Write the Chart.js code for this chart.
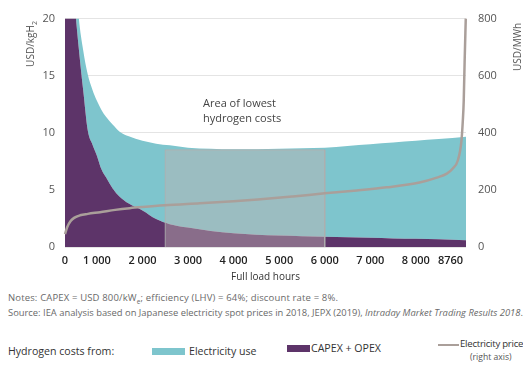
<!DOCTYPE html>
<html><head><meta charset="utf-8">
<script src="https://cdn.jsdelivr.net/npm/chart.js@4.4.1/dist/chart.umd.min.js"></script>
<style>
html,body{margin:0;padding:0;background:#fff}
body{width:523px;height:365px;overflow:hidden;position:relative;font-family:"Open Sans",sans-serif}
#wrap{position:absolute;left:0;top:0;width:523px;height:285px}
.t{position:absolute;white-space:nowrap}
.note{left:8px;font-size:9.5px;letter-spacing:0.15px;color:#6a6a6a}
.rot{width:90px;text-align:center;transform:rotate(-90deg);font-size:10px;color:#555}
.leg{font-size:10.6px;color:#333}
.sw{position:absolute}
</style></head><body>
<div id="wrap"><canvas id="c" width="523" height="285"></canvas></div>
<div class="t rot" style="left:-14px;top:36px">USD/kgH<sub style="font-size:7px">2</sub></div>
<div class="t rot" style="left:472px;top:40px">USD/MWh</div>
<div class="t" style="left:203px;top:95px;font-size:11px;color:#444;line-height:15px">Area of lowest<br>hydrogen costs</div>
<div class="t note" style="top:291px">Notes: CAPEX = USD 800/kW<sub style="font-size:6.5px">e</sub>; efficiency (LHV) = 64%; discount rate = 8%.</div>
<div class="t note" style="top:306px;letter-spacing:0;font-size:9.4px">Source: IEA analysis based on Japanese electricity spot prices in 2018, JEPX (2019), <i>Intraday Market Trading Results 2018</i>.</div>
<div class="t leg" style="left:8px;top:344px">Hydrogen costs from:</div>
<div class="sw" style="left:152px;top:348px;width:33px;height:7px;background:#7ec5cd"></div>
<div class="t leg" style="left:189px;top:344px">Electricity use</div>
<div class="sw" style="left:287px;top:345px;width:23px;height:7px;background:#5d3469"></div>
<div class="t leg" style="left:311px;top:341px">CAPEX + OPEX</div>
<div class="sw" style="left:438px;top:344px;width:21px;height:2px;background:#aa9f9a"></div>
<div class="t leg" style="left:460px;top:337px;font-size:9.6px;letter-spacing:-0.25px">Electricity price</div>
<div class="t leg" style="left:470px;top:351px;font-size:8.6px;color:#555">(right axis)</div>
<script>
// Full load hours (x) for the stacked cost areas
const hours = [300, 400, 500, 550, 600, 700, 800, 900, 1000, 1100, 1200, 1350, 1500, 1700, 2000, 2300, 2600, 3000, 3500, 4000, 4500, 5000, 5500, 6000, 6500, 7000, 7500, 8000, 8500, 9100];
// Hydrogen costs from CAPEX + OPEX (USD/kgH2)
const capexOpex = [36, 27, 22, 19.6, 17.5, 13.7, 10.2, 9.0, 8.0, 6.8, 6.1, 5.1, 4.4, 3.8, 3.2, 2.45, 2.0, 1.7, 1.4, 1.2, 1.07, 1.0, 0.95, 0.9, 0.85, 0.8, 0.75, 0.72, 0.68, 0.6];
// Hydrogen costs from electricity use (USD/kgH2)
const electricityUse = [6, 5, 4, 3.5, 2.7, 3.5, 4.9, 4.8, 4.8, 5.2, 5.3, 5.6, 5.7, 5.9, 6.1, 6.6, 6.9, 7.0, 7.2, 7.35, 7.48, 7.6, 7.7, 7.8, 8.0, 8.2, 8.4, 8.58, 8.77, 9.05];
// Electricity price curve (right axis, USD/MWh)
const priceHours = [300, 350, 420, 500, 630, 800, 1070, 1400, 1720, 2000, 2490, 3260, 4000, 4530, 5300, 6000, 6700, 7360, 8080, 8460, 8680, 8810, 8920, 9000, 9030, 9050, 9070, 9095];
const electricityPrice = [45, 70, 90, 102, 111, 116, 122, 130, 136, 140, 146, 153, 160, 166, 177, 188, 198, 209, 226, 243, 257, 275, 303, 372, 442, 511, 650, 800];
// Area of lowest hydrogen costs
const boxHours = [2500, 2500, 6000, 6000];
const boxCost = [0, 8.5, 8.5, 0];
// Axis ticks
const xTickValues = [300, 1000, 2000, 3000, 4000, 5000, 6000, 7000, 8000, 8760];
const xTickLabels = ['0', '1 000', '2 000', '3 000', '4 000', '5 000', '6 000', '7 000', '8 000', '8760'];
const leftTicks = [0, 5, 10, 15, 20];
const rightTicks = [0, 200, 400, 600, 800];

const pts = (xs, ys) => xs.map((x, i) => ({x: x, y: ys[i]}));

new Chart(document.getElementById('c'), {
  type: 'line',
  data: {
    datasets: [
      {label: 'Electricity price', data: pts(priceHours, electricityPrice), yAxisID: 'y2',
       borderColor: '#aa9f9a', borderWidth: 2.5, pointRadius: 0, fill: false,
       cubicInterpolationMode: 'monotone', order: 0, clip: 2},
      {label: 'box', data: pts(boxHours, boxCost), yAxisID: 'y', stack: 'box',
       borderColor: 'rgba(175,175,175,0.9)', borderWidth: 1, backgroundColor: 'rgba(190,180,180,0.45)',
       pointRadius: 0, fill: 'origin', tension: 0, order: 1, clip: 0},
      {label: 'CAPEX + OPEX', data: pts(hours, capexOpex), yAxisID: 'y', stack: 'cost',
       borderWidth: 0, borderColor: '#5d3469', backgroundColor: '#5d3469', pointRadius: 0,
       fill: 'origin', cubicInterpolationMode: 'monotone', order: 2, clip: 0},
      {label: 'Electricity use', data: pts(hours, electricityUse), yAxisID: 'y', stack: 'cost',
       borderWidth: 0, borderColor: '#7ec5cd', backgroundColor: '#7ec5cd', pointRadius: 0,
       fill: '-1', cubicInterpolationMode: 'monotone', order: 3, clip: 0}
    ]
  },
  options: {
    responsive: false, animation: false,
    layout: {padding: {top: 17, bottom: 0, left: 0, right: 0}},
    plugins: {legend: {display: false}, tooltip: {enabled: false}},
    scales: {
      x: {type: 'linear', min: 300, max: 9100,
          grid: {display: false, drawTicks: false, tickLength: 0}, border: {display: false},
          afterBuildTicks: s => { s.ticks = xTickValues.map(v => ({value: v})); },
          afterFit: s => { s.height = 38; },
          ticks: {autoSkip: false, maxRotation: 0, padding: 7, color: '#222',
                  font: {family: 'Open Sans', size: 11, weight: '600'},
                  callback: (v, i) => xTickLabels[i]},
          title: {display: true, text: 'Full load hours', color: '#333', padding: {top: 2, bottom: 2},
                  font: {family: 'Open Sans', size: 10}}},
      y: {position: 'left', stacked: true, min: 0, max: 20,
          afterBuildTicks: s => { s.ticks = leftTicks.map(v => ({value: v})); },
          afterFit: s => { s.width = 65; },
          grid: {color: '#e4e4e4', drawTicks: false}, border: {display: false},
          ticks: {padding: 10, color: '#555', font: {family: 'Open Sans', size: 11}}},
      y2: {position: 'right', stacked: false, min: 0, max: 800,
          afterBuildTicks: s => { s.ticks = rightTicks.map(v => ({value: v})); },
          afterFit: s => { s.width = 57; },
          grid: {display: false, drawTicks: false}, border: {display: false},
          ticks: {padding: 12, color: '#555', font: {family: 'Open Sans', size: 11}}}
    }
  }
});
</script>
</body></html>
